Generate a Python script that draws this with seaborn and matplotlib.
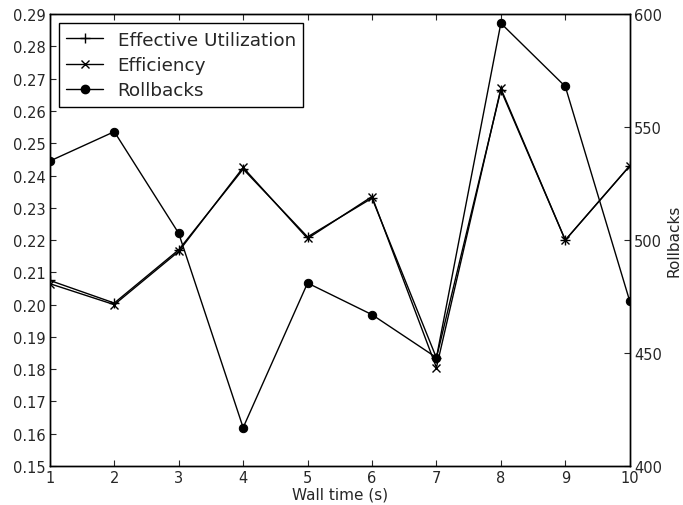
import pandas as pd
import seaborn as sns
import matplotlib.pyplot as plt
from matplotlib.lines import Line2D

# values
wall_time = [1, 2, 3, 4, 5, 6, 7, 8, 9, 10]
effective_utilization = [0.2075, 0.2005, 0.2170, 0.2420, 0.2210, 0.2330, 0.1835, 0.2665, 0.2200, 0.2430]
efficiency = [0.2065, 0.2000, 0.2165, 0.2425, 0.2205, 0.2335, 0.1805, 0.2670, 0.2200, 0.2430]
rollbacks = [535, 548, 503, 417, 481, 467, 448, 596, 568, 473]

df = pd.DataFrame({
    "wall_time": wall_time,
    "eff_util": effective_utilization,
    "efficiency": efficiency,
    "rollbacks": rollbacks,
})

sns.set_style("ticks", {"xtick.direction": "in", "ytick.direction": "in"})
plt.rcParams["font.family"] = ["DejaVu Sans"]

fig = plt.figure(figsize=(6.83, 5.06), dpi=100)
ax = fig.add_axes([0.073, 0.077, 0.849, 0.893])
ax2 = ax.twinx()

sns.lineplot(data=df, x="wall_time", y="eff_util", ax=ax, color="black", linewidth=1,
             marker="+", markersize=7, markeredgewidth=1, markeredgecolor="black")
sns.lineplot(data=df, x="wall_time", y="efficiency", ax=ax, color="black", linewidth=1,
             marker="x", markersize=6, markeredgewidth=1, markeredgecolor="black")
sns.lineplot(data=df, x="wall_time", y="rollbacks", ax=ax2, color="black", linewidth=1,
             marker="o", markersize=6, markeredgecolor="black")

ax.set_xlim(1, 10)
ax.set_ylim(0.15, 0.29)
ax.set_yticks([0.15 + 0.01 * i for i in range(15)])
ax.set_yticklabels([f"{0.15 + 0.01 * i:.2f}" for i in range(15)])
ax.set_xticks(wall_time)
ax2.set_ylim(400, 600)
ax2.set_yticks([400, 450, 500, 550, 600])

ax.set_xlabel("Wall time (s)", fontsize=11, labelpad=1)
ax.set_ylabel("")
ax2.set_ylabel("Rollbacks", fontsize=11, labelpad=3)

for a in (ax, ax2):
    a.tick_params(labelsize=10.5, length=4, width=0.8, direction="in", top=True, pad=3)
    for s in a.spines.values():
        s.set_visible(True)
        s.set_color("black")
        s.set_linewidth(1)
ax.tick_params(right=False)
ax2.tick_params(left=False)

handles = [
    Line2D([], [], color="black", lw=1, marker="+", markersize=7),
    Line2D([], [], color="black", lw=1, marker="x", markersize=6),
    Line2D([], [], color="black", lw=1, marker="o", markersize=6),
]
leg = ax2.legend(handles, ["Effective Utilization", "Efficiency", "Rollbacks"],
                 loc="upper left", fontsize=13.2, fancybox=False, framealpha=1,
                 borderaxespad=0.5, handlelength=2, labelspacing=0.4,
                 borderpad=0.4)
leg.get_frame().set_edgecolor("black")
leg.get_frame().set_linewidth(1)

fig.savefig("out.png", dpi=100)
